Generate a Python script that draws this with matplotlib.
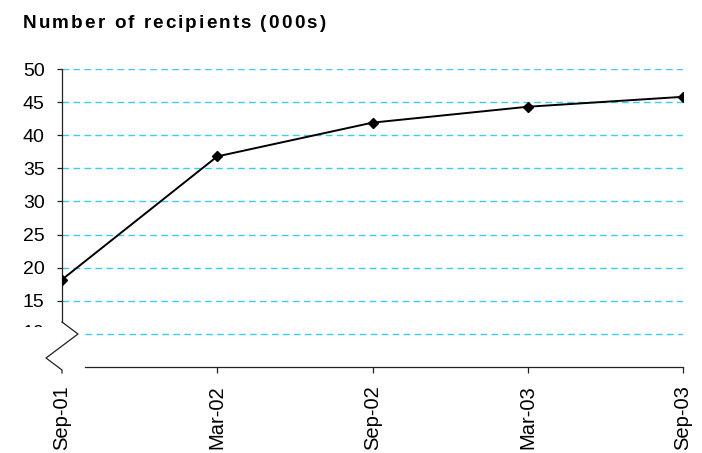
import numpy as np
import matplotlib
matplotlib.use("Agg")
from matplotlib import pyplot as plt
from matplotlib.patches import Rectangle

plt.rcParams['font.family'] = ['Liberation Sans', 'DejaVu Sans']

# data
dates = ["Sep-01", "Mar-02", "Sep-02", "Mar-03", "Sep-03"]
recipients = [18.2, 36.8, 41.9, 44.3, 45.8]
ytick_vals = [15, 20, 25, 30, 35, 40, 45, 50]
grid_vals = [10, 15, 20, 25, 30, 35, 40, 45, 50]
title = "Number of recipients (000s)"

W, H = 702, 453
fig = plt.figure(figsize=(W/100, H/100), dpi=100)
# axes box in pixels: x 62..683, y 69..367
ax = fig.add_axes([62/W, 1-367/H, (683-62)/W, (367-69)/H])
ax.set_xlim(0, len(dates)-1)
ax.set_ylim(5, 50)
x = np.arange(len(dates))

grid_col = '#38cdf5'
axw = 683 - 62
axh = 367 - 69
x_start_low = 23/axw*(len(dates)-1)   # bottom spine / lowest grid starts after the break
for g in grid_vals:
    x0 = x_start_low if g == 10 else 0
    ax.plot([x0, len(dates)-1], [g, g], color=grid_col, lw=1.0,
            linestyle=(0, (4.8, 3.1)), zorder=1)

ax.plot(x, recipients, color='black', lw=1.4, marker='D', ms=4.8,
        mfc='black', mec='black', zorder=3)

for s in ['top', 'right']:
    ax.spines[s].set_visible(False)
ax.spines['left'].set_bounds(5 + 45*45/axh, 50)
ax.spines['bottom'].set_bounds(x_start_low, len(dates)-1)
for s in ['left', 'bottom']:
    ax.spines[s].set_color('#222222')
    ax.spines[s].set_linewidth(0.9)

# axis break zigzag
zx = np.array([0, 16, -16, 0, 0]) / axw
zy = np.array([45, 33, 9, -3, -6]) / axh
ax.plot(zx, zy, color='#222222', lw=0.9, transform=ax.transAxes, clip_on=False)

ax.set_yticks(ytick_vals)
ax.set_yticklabels([str(v) for v in ytick_vals])
ax.set_xticks(x)
ax.set_xticklabels(dates, rotation=90)
ax.tick_params(axis='y', length=3.6, width=0.9, color='#222222', pad=9, labelsize=14)
ax.tick_params(axis='x', length=4.3, width=0.9, color='#222222', pad=9, labelsize=14.5)
ax.get_xticklines()[0].set_visible(False)

# the "10" label is hidden behind the break, only its top peeks out
fig.text(44/W, 1-334/H, "10", ha='right', va='center', fontsize=14)
fig.patches.append(Rectangle((20/W, 1-350/H), 30/W, 23/H, transform=fig.transFigure,
                             facecolor='white', edgecolor='none', zorder=5))

# title with letter spacing
fs = 13.6
renderer = fig.canvas.get_renderer()
widths = []
for ch in title:
    if ch == ' ':
        t = fig.text(0, 0, 'a a', fontsize=fs, fontweight='bold')
        t2 = fig.text(0, 0, 'aa', fontsize=fs, fontweight='bold')
        widths.append(t.get_window_extent(renderer).width - t2.get_window_extent(renderer).width)
        t.remove(); t2.remove()
    else:
        t = fig.text(0, 0, ch, fontsize=fs, fontweight='bold')
        widths.append(t.get_window_extent(renderer).width)
        t.remove()
track = (302 - sum(widths)) / (len(title) - 1)
tx = 23
for ch, w in zip(title, widths):
    if ch != ' ':
        fig.text(tx/W, 1-27.6/H, ch, fontsize=fs, fontweight='bold', va='baseline')
    tx += w + track

fig.savefig("out.png", dpi=100)
